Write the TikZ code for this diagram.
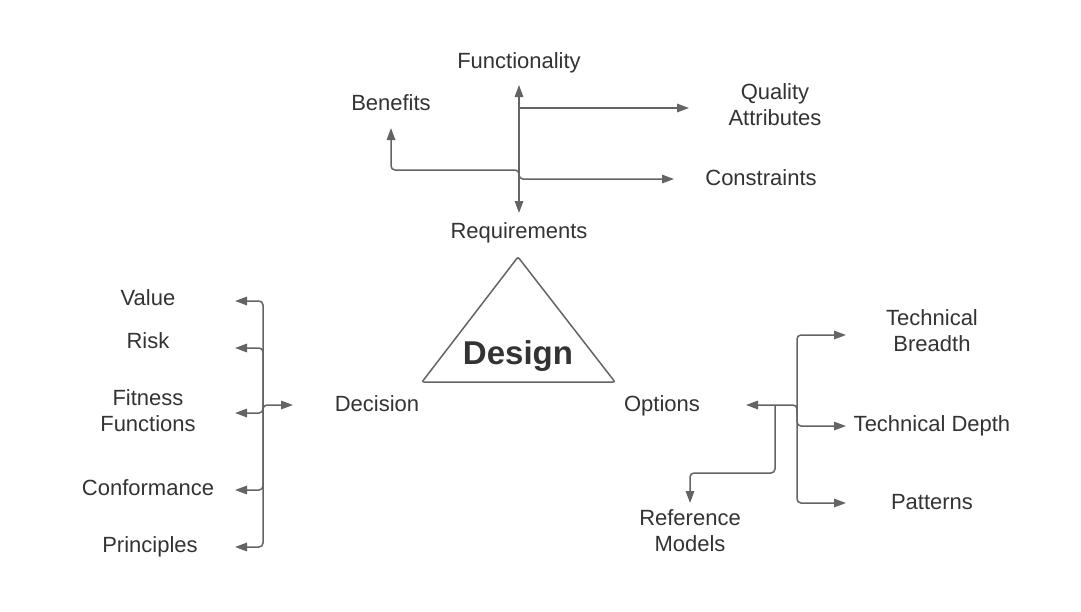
\documentclass[tikz,border=0pt]{standalone}
\usepackage{fontspec}
\setmainfont{Liberation Sans}
\usetikzlibrary{arrows.meta}
\definecolor{linec}{HTML}{646464}
\definecolor{textc}{HTML}{333333}
\begin{document}
\begin{tikzpicture}[x=1pt,y=-1pt,
  lbl/.style={text=textc,font=\fontsize{22}{26}\selectfont,align=center,inner sep=0pt},
  lblb/.style={lbl,anchor=base},
  conn/.style={draw=linec,line width=1.5pt,rounded corners=4pt},
  arr/.style={conn,-{Triangle[length=12pt,width=8.5pt]}},
  darr/.style={conn,{Triangle[length=12pt,width=8.5pt]}-{Triangle[length=12pt,width=8.5pt]}}]
\fill[white] (0,0) rectangle (1081,611);
\useasboundingbox (0,0) rectangle (1081,611);
% labels
\node[lblb] (func) at (519,68) {Functionality};
\node[lblb] (ben) at (391,110) {Benefits};
\node[lbl] (qa) at (775,105) {Quality\\Attributes};
\node[lblb] (cons) at (761,185) {Constraints};
\node[lblb] (req) at (519,238) {Requirements};
\node[lblb] (dec) at (377,411) {Decision};
\node[lblb] (opt) at (662,411) {Options};
\node[lblb] (val) at (148,305) {Value};
\node[lblb] (risk) at (148,348) {Risk};
\node[lbl] (fit) at (148,411) {Fitness\\Functions};
\node[lblb] (conf) at (148,495) {Conformance};
\node[lblb] (prin) at (150,552) {Principles};
\node[lbl] (tb) at (932,331) {Technical\\Breadth};
\node[lblb] (td) at (932,431) {Technical Depth};
\node[lblb] (pat) at (932,509) {Patterns};
\node[lbl] (rm) at (690,531) {Reference\\Models};
% triangle
\coordinate (ta) at (518,257);
\coordinate (tl) at (422,382);
\coordinate (tr) at (615,382);
\draw[draw=linec,line width=1.5pt,rounded corners=2pt] (ta) -- (tr) -- (tl) -- cycle;
\node[text=textc,font=\fontsize{33}{38}\selectfont\bfseries,inner sep=0pt,anchor=base] (design) at (518,364) {Design};
% top connectors
\coordinate (vTop) at (519,85);
\coordinate (vBot) at (519,213);
\coordinate (qaTip) at (689,108);
\coordinate (consTip) at (674,179);
\coordinate (benTip) at (391,128);
\draw[darr] (vTop) -- (vBot);
\draw[arr] (519,108) -- (qaTip);
\draw[arr] (519,170) -- (519,179) -- (consTip);
\draw[arr] (519,179) -- (519,170) -- (391,170) -- (benTip);
% left bracket
\coordinate (valTip) at (235,301);
\coordinate (riskTip) at (235,348);
\coordinate (fitTip) at (235,413);
\coordinate (confTip) at (235,490);
\coordinate (prinTip) at (235,547);
\coordinate (decTip) at (293,405);
\draw[arr] (263,405) -- (263,301) -- (valTip);
\draw[arr] (263,405) -- (263,348) -- (riskTip);
\draw[arr] (263,405) -- (263,413) -- (fitTip);
\draw[arr] (263,405) -- (263,490) -- (confTip);
\draw[arr] (263,405) -- (263,547) -- (prinTip);
\draw[arr] (263,413) -- (263,405) -- (decTip);
% right bracket
\coordinate (optTip) at (746,405);
\coordinate (tbTip) at (846,335);
\coordinate (tdTip) at (846,426);
\coordinate (patTip) at (846,503);
\coordinate (rmTip) at (690,503);
\draw[arr] (797,413) -- (797,405) -- (optTip);
\draw[arr] (797,405) -- (797,335) -- (tbTip);
\draw[arr] (797,405) -- (797,426) -- (tdTip);
\draw[arr] (797,405) -- (797,503) -- (patTip);
\draw[arr] (775,405) -- (775,473) -- (690,473) -- (rmTip);
\end{tikzpicture}
\end{document}
